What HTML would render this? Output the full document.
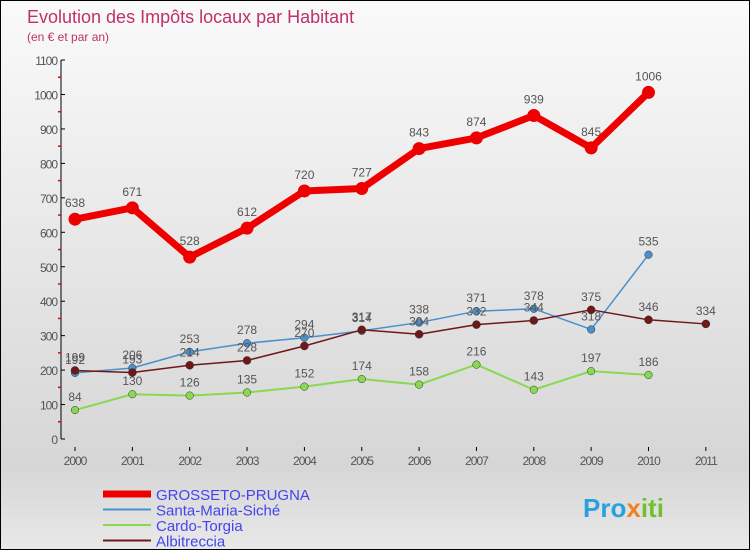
<!DOCTYPE html>
<html><head><meta charset="utf-8"><style>
body{margin:0}
#c{width:748px;height:548px;border:1px solid #000;background:linear-gradient(#fafafa,#d6d6d6 85%,#e8e8e8);position:relative;font-family:"Liberation Sans",sans-serif;overflow:hidden}
</style></head><body>
<div id="c">
<svg id="s" width="748" height="548"></svg>
</div>
<script>
const years=["2000","2001","2002","2003","2004","2005","2006","2007","2008","2009","2010","2011"];
const yTicks=[0,100,200,300,400,500,600,700,800,900,1000,1100];
const grosseto=[638,671,528,612,720,727,843,874,939,845,1006];
const santa=[192,206,253,278,294,314,338,371,378,318,535];
const cardo=[84,130,126,135,152,174,158,216,143,197,186];
const albi=[199,193,214,228,270,317,304,332,344,375,346,334];
const NS="http://www.w3.org/2000/svg";
const s=document.getElementById('s');
const X=i=>74+i*57.35, Y=v=>438-v*0.3445;
function el(t,a,p){const e=document.createElementNS(NS,t);for(const k in a)e.setAttribute(k,a[k]);(p||s).appendChild(e);return e;}
function tx(x,y,str,a){const e=el('text',Object.assign({x:x,y:y},a));e.textContent=str;return e;}
let t=tx(26,22,"Evolution des Impôts locaux par Habitant",{fill:"#c0306a","font-size":18});

t=tx(26,40,"(en € et par an)",{fill:"#c0306a","font-size":12});

let ax=el('line',{x1:60,y1:Y(1100),x2:60,y2:Y(0),stroke:"#000"});

yTicks.forEach(v=>{el('line',{x1:60,x2:64,y1:Y(v),y2:Y(v),stroke:"#000"});
 if(v<1100)el('line',{x1:57,x2:60,y1:Y(v+50),y2:Y(v+50),stroke:"#e00","stroke-width":1.5});
 const l=tx(56,Y(v)+5,v,{"text-anchor":"end","font-size":12,fill:"#555","letter-spacing":"-1"});
 });
years.forEach((y,i)=>{el('line',{x1:X(i),x2:X(i),y1:446,y2:450,stroke:"#000"});
 const l=tx(X(i),464,y,{"text-anchor":"middle","font-size":12,fill:"#555","letter-spacing":"-1"});
 });
function series(d,col,w,r,name,dy){
 const p=el('polyline',{points:d.map((v,i)=>X(i)+","+Y(v)).join(" "),fill:"none",stroke:col,"stroke-width":w,"stroke-linejoin":"round"});
 
 d.forEach((v,i)=>{const c=el('circle',{cx:X(i),cy:Y(v),r:r,fill:col,stroke:w>3?"none":"#333","stroke-width":0.5});
  
  const l=tx(X(i),Y(v)-dy,v,{"text-anchor":"middle","font-size":12,fill:"#555"});
  });
}
series(cardo,"#88d850",2,3.8,"cardo",9);
series(santa,"#4a90cc",1.5,3.8,"santa",9);
series(albi,"#701818",1.5,4,"albi",9);
series(grosseto,"#ee0000",7,6.5,"grosseto",12);
const legend=[["GROSSETO-PRUGNA","#ee0000",7],["Santa-Maria-Siché","#4a90cc",2],["Cardo-Torgia","#88d850",2],["Albitreccia","#701818",2]];
legend.forEach((g,i)=>{const y=493+i*15.5;
 const ln=el('line',{x1:102,x2:150,y1:y,y2:y,stroke:g[1],"stroke-width":g[2]});
 
 const l=tx(155,y+6,g[0],{"font-size":15,fill:"#4444ee"});
 });
const lg=tx(582,516,"Pro",{"font-size":26,"font-weight":"bold",fill:"#2aa0e0"});

const sp=el('tspan',{fill:"#f08020"},lg);sp.textContent="x";
const sp2=el('tspan',{fill:"#70c030"},lg);sp2.textContent="iti";
</script>
</body></html>
